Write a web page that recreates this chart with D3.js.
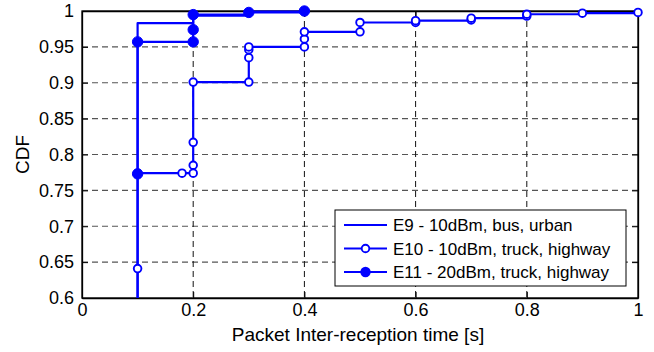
<!DOCTYPE html>
<html>
<head>
<meta charset="utf-8">
<script src="https://cdn.jsdelivr.net/npm/d3@7"></script>
<style>
  html, body { margin: 0; padding: 0; background: #fff; }
  svg { display: block; font-family: "Liberation Sans", Arial, Helvetica, sans-serif; }
</style>
</head>
<body>
<svg id="chart" width="654" height="352"></svg>
<script>
// Inter-reception time CDFs (step plots), one array per experiment
const e9Times  = [0.1, 0.1, 0.2, 0.3, 0.4];
const e9Cdf    = [0.40, 0.983, 0.9935, 0.999, 1.0];

const e10Times = [0.1, 0.1, 0.1, 0.18, 0.2, 0.2, 0.2, 0.2, 0.3, 0.3, 0.3, 0.3,
                  0.4, 0.4, 0.4, 0.5, 0.5, 0.6, 0.6, 0.7, 0.7, 0.8, 0.8, 0.9, 1.0];
const e10Cdf   = [0.40, 0.641, 0.774, 0.774, 0.774, 0.785, 0.817, 0.901, 0.901, 0.935, 0.946, 0.950,
                  0.950, 0.961, 0.971, 0.971, 0.984, 0.984, 0.9865, 0.9875, 0.990, 0.993, 0.9955, 0.997, 0.998];

const e11Times = [0.1, 0.1, 0.2, 0.2, 0.2, 0.3, 0.4];
const e11Cdf   = [0.773, 0.957, 0.957, 0.974, 0.995, 0.998, 1.0];

const seriesNames = ["E9 - 10dBm, bus, urban", "E10 - 10dBm, truck, highway", "E11 - 20dBm, truck, highway"];
const xTicks = [0, 0.2, 0.4, 0.6, 0.8, 1];
const yTicks = [0.6, 0.65, 0.7, 0.75, 0.8, 0.85, 0.9, 0.95, 1];
const xLabel = "Packet Inter-reception time [s]";
const yLabel = "CDF";

const svg = d3.select("#chart");
const margin = { left: 82, top: 11, right: 16, bottom: 54 };
const W = 654, H = 352;
const pw = W - margin.left - margin.right;
const ph = H - margin.top - margin.bottom;

const x = d3.scaleLinear().domain([0, 1]).range([0, pw]);
const y = d3.scaleLinear().domain([0.6, 1]).range([ph, 0]);

const g = svg.append("g").attr("transform", `translate(${margin.left},${margin.top})`);

svg.append("defs").append("clipPath").attr("id", "plotClip")
  .append("rect").attr("x", -6).attr("y", -6).attr("width", pw + 12).attr("height", ph + 6);

// dashed grid
g.append("g").selectAll("line").data(yTicks.slice(1, -1)).join("line")
  .attr("x1", 0).attr("x2", pw)
  .attr("y1", d => y(d)).attr("y2", d => y(d))
  .attr("stroke", "#555").attr("stroke-width", 1.1).attr("stroke-dasharray", "6,4");
g.append("g").selectAll("line").data(xTicks.slice(1, -1)).join("line")
  .attr("y1", 0).attr("y2", ph)
  .attr("x1", d => x(d)).attr("x2", d => x(d))
  .attr("stroke", "#111").attr("stroke-width", 1).attr("stroke-dasharray", "6,4");

// axes (ticks pointing inward on all four sides)
const tl = 6;
const axB = g.append("g").attr("transform", `translate(0,${ph})`)
  .call(d3.axisBottom(x).tickValues(xTicks).tickFormat(d3.format("")).tickSizeInner(-tl).tickSizeOuter(0).tickPadding(5));
const axT = g.append("g")
  .call(d3.axisTop(x).tickValues(xTicks).tickFormat("").tickSizeInner(-tl).tickSizeOuter(0));
const axL = g.append("g")
  .call(d3.axisLeft(y).tickValues(yTicks).tickFormat(d3.format("")).tickSizeInner(-tl).tickSizeOuter(0).tickPadding(8));
const axR = g.append("g").attr("transform", `translate(${pw},0)`)
  .call(d3.axisRight(y).tickValues(yTicks).tickFormat("").tickSizeInner(-tl).tickSizeOuter(0));

[axB, axT, axL, axR].forEach(a => {
  a.select(".domain").attr("stroke", "#000").attr("stroke-width", 1.3);
  a.selectAll(".tick line").attr("stroke", "#000").attr("stroke-width", 1);
  a.selectAll(".tick text").attr("fill", "#000").attr("font-size", 18)
    .attr("font-family", "'Liberation Sans', Arial, sans-serif");
});
// box sides are drawn as full-length lines
g.append("rect").attr("x", 0).attr("y", 0).attr("width", pw).attr("height", ph)
  .attr("fill", "none").attr("stroke", "#000").attr("stroke-width", 1.3);

// axis titles
svg.append("text").attr("x", margin.left + pw / 2 - 2).attr("y", 341)
  .attr("text-anchor", "middle").attr("font-size", 19).text(xLabel);
svg.append("text").attr("transform", `translate(29,${margin.top + ph / 2}) rotate(-90)`)
  .attr("text-anchor", "middle").attr("font-size", 19).text(yLabel);

// series
const blue = "#0000ff";
const stepLine = d3.line().x(d => x(d[0])).y(d => y(d[1])).curve(d3.curveStepAfter);
const plot = g.append("g").attr("clip-path", "url(#plotClip)");

function drawSeries(times, cdf, marker) {
  const pts = times.map((t, i) => [t, cdf[i]]);
  plot.append("path").datum(pts).attr("d", stepLine)
    .attr("fill", "none").attr("stroke", blue).attr("stroke-width", 2.2)
    .attr("stroke-linejoin", "round");
  if (marker === "open") {
    plot.append("g").selectAll("circle").data(pts).join("circle")
      .attr("cx", d => x(d[0])).attr("cy", d => y(d[1])).attr("r", 3.8)
      .attr("fill", "#fff").attr("stroke", blue).attr("stroke-width", 1.9);
  } else if (marker === "filled") {
    plot.append("g").selectAll("circle").data(pts).join("circle")
      .attr("cx", d => x(d[0])).attr("cy", d => y(d[1])).attr("r", 5.2)
      .attr("fill", blue).attr("stroke", blue).attr("stroke-width", 1);
  }
}
drawSeries(e9Times, e9Cdf, null);
drawSeries(e10Times, e10Cdf, "open");
drawSeries(e11Times, e11Cdf, "filled");

// legend
const lg = svg.append("g").attr("transform", "translate(335,210)");
lg.append("rect").attr("width", 291).attr("height", 76)
  .attr("fill", "#fff").attr("stroke", "#000").attr("stroke-width", 1);
const markers = [null, "open", "filled"];
seriesNames.forEach((name, i) => {
  const cy = 15 + i * 23.5;
  lg.append("line").attr("x1", 9).attr("x2", 52).attr("y1", cy).attr("y2", cy)
    .attr("stroke", blue).attr("stroke-width", 2.2);
  if (markers[i] === "open") {
    lg.append("circle").attr("cx", 30.5).attr("cy", cy).attr("r", 3.8)
      .attr("fill", "#fff").attr("stroke", blue).attr("stroke-width", 1.9);
  } else if (markers[i] === "filled") {
    lg.append("circle").attr("cx", 30.5).attr("cy", cy).attr("r", 5.2).attr("fill", blue);
  }
  lg.append("text").attr("x", 58).attr("y", cy + 6).attr("font-size", 17).text(name);
});
</script>
</body>
</html>
